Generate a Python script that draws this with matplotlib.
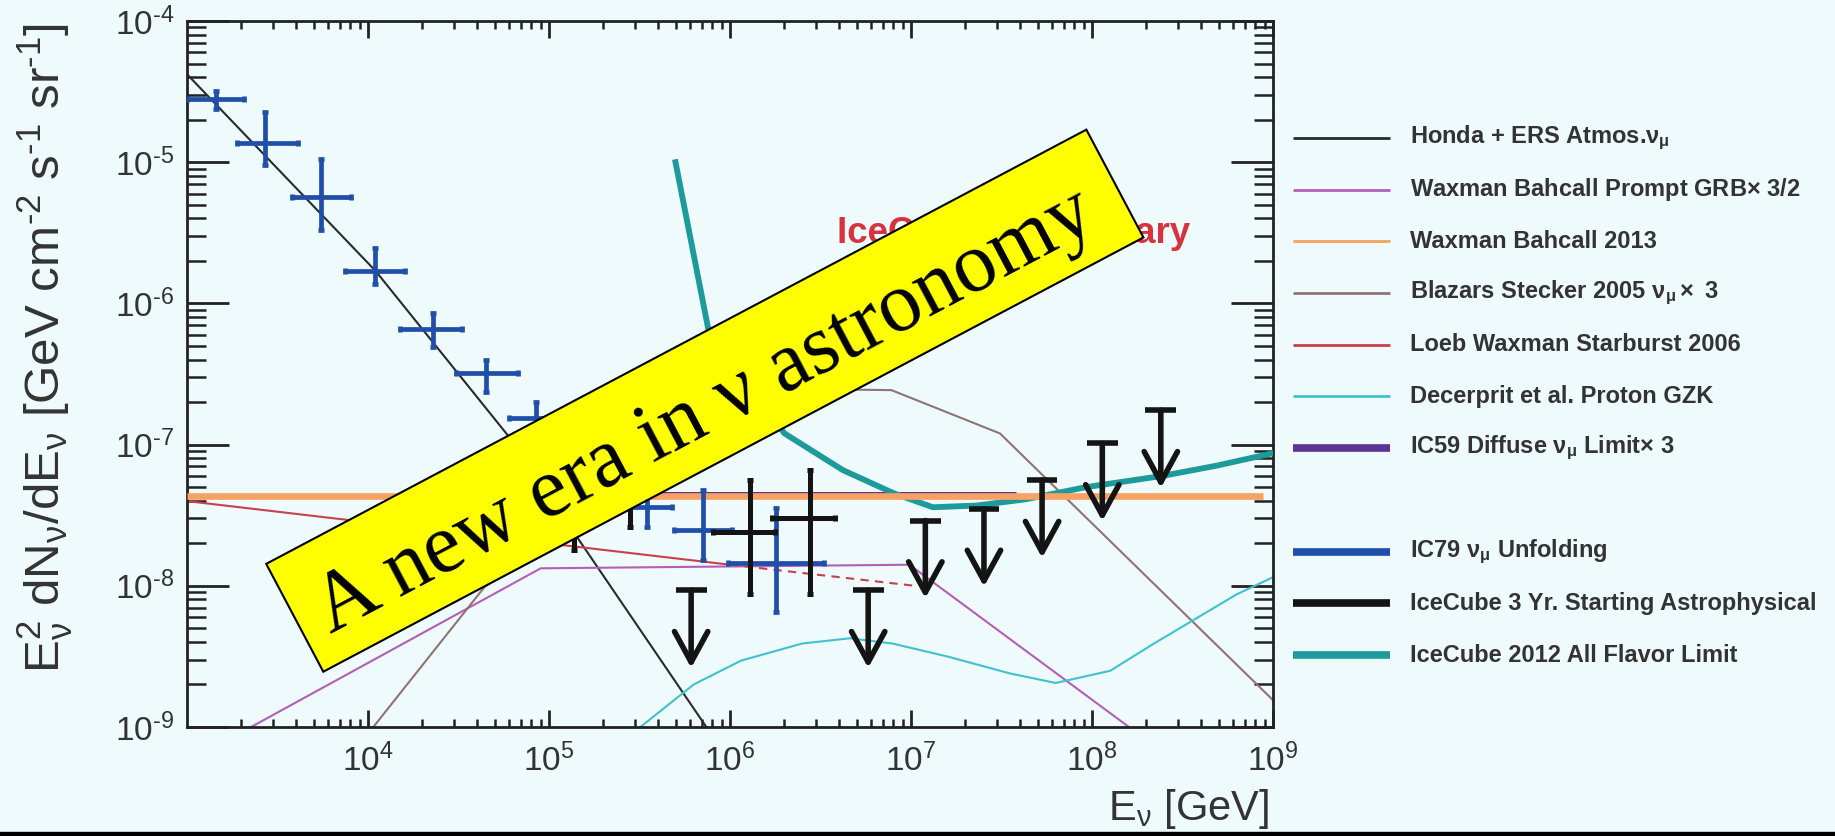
import matplotlib
matplotlib.use("Agg")
import matplotlib.pyplot as plt
import numpy as np
from matplotlib.lines import Line2D
from matplotlib.patches import Rectangle, FancyArrowPatch
from matplotlib.ticker import LogLocator, FuncFormatter

plt.rcParams["font.family"] = ["Liberation Sans", "DejaVu Sans"]
plt.rcParams["mathtext.fontset"] = "custom"
plt.rcParams["mathtext.rm"] = "Liberation Sans"
plt.rcParams["mathtext.it"] = "Liberation Sans:italic"
plt.rcParams["mathtext.bf"] = "Liberation Sans:bold"
plt.rcParams["mathtext.default"] = "regular"
plt.rcParams["axes.unicode_minus"] = False

# ---- model curves (E in GeV, E^2 dN/dE in GeV cm^-2 s^-1 sr^-1) ----
atm_e = [1.0e3, 1.1e4, 5.9e4, 7.4e5]
atm_f = [4.2e-5, 1.7e-6, 1.17e-7, 1.0e-9]

grb_e = [2.1e3, 9.0e4, 9.8e6, 1.6e8]
grb_f = [9.5e-10, 1.33e-8, 1.41e-8, 1.0e-9]

wb13_e = [1.0e3, 8.8e8]
wb13_f = [4.3e-8, 4.3e-8]

blazar_e = [1.07e4, 4.4e4, 5.0e5, 4.9e6, 7.8e6, 3.1e7, 1.0e9]
blazar_f = [1.0e-9, 9.8e-9, 1.0e-7, 2.45e-7, 2.43e-7, 1.2e-7, 1.55e-9]

sb_e = [1.0e3, 1.0e6]
sb_f = [3.98e-8, 1.41e-8]
sb_dash_e = [1.0e6, 1.05e7]
sb_dash_f = [1.41e-8, 1.0e-8]

gzk_e = [3.2e5, 6.3e5, 1.15e6, 2.5e6, 4.6e6, 7.9e6, 1.6e7, 3.5e7, 6.3e7, 1.26e8, 2.2e8, 6.3e8, 1.0e9]
gzk_f = [1.0e-9, 2.0e-9, 2.95e-9, 3.9e-9, 4.25e-9, 3.9e-9, 3.15e-9, 2.4e-9, 2.05e-9, 2.5e-9, 3.9e-9, 8.7e-9, 1.15e-8]

ic59_e = [3.2e5, 3.8e7]
ic59_f = [4.5e-8, 4.5e-8]

ic12_e = [5.0e5, 7.6e5, 2.0e6, 4.2e6, 8.1e6, 1.32e7, 2.3e7, 4.3e7, 9.3e7, 2.45e8, 4.9e8, 1.0e9]
ic12_f = [1.0e-5, 6.5e-7, 1.2e-7, 6.6e-8, 4.5e-8, 3.6e-8, 3.7e-8, 4.1e-8, 5.0e-8, 6.0e-8, 7.1e-8, 8.7e-8]

# ---- IC79 nu_mu unfolding ----
ic79_e = [1.44e3, 2.7e3, 5.5e3, 1.1e4, 2.3e4, 4.5e4, 8.5e4, 3.5e5, 7.1e5, 1.8e6]
ic79_f = [2.8e-5, 1.36e-5, 5.7e-6, 1.7e-6, 6.6e-7, 3.2e-7, 1.55e-7, 3.6e-8, 2.5e-8, 1.45e-8]
ic79_elo = [1.0e3, 1.9e3, 3.8e3, 7.5e3, 1.5e4, 3.05e4, 6.0e4, 2.6e5, 4.9e5, 9.8e5]
ic79_ehi = [2.07e3, 4.1e3, 8.1e3, 1.6e4, 3.3e4, 6.7e4, 1.2e5, 4.8e5, 1.02e6, 3.3e6]
ic79_flo = [2.4e-5, 9.6e-6, 3.3e-6, 1.38e-6, 4.9e-7, 2.36e-7, 1.17e-7, 2.6e-8, 1.52e-8, 6.5e-9]
ic79_fhi = [3.2e-5, 2.26e-5, 1.06e-5, 2.45e-6, 8.5e-7, 3.95e-7, 2.0e-7, 4.8e-8, 4.75e-8, 3.55e-8]

# ---- IceCube 3 yr starting events ----
hese_e = [1.38e5, 2.8e5, 1.29e6, 2.77e6]
hese_f = [3.5e-8, 4.8e-8, 2.4e-8, 3.0e-8]
hese_elo = [1.1e5, 2.24e5, 8.05e5, 1.7e6]
hese_ehi = [1.74e5, 3.55e5, 1.77e6, 3.81e6]
hese_flo = [1.8e-8, 2.6e-8, 8.8e-9, 8.8e-9]
hese_fhi = [6.3e-8, 7.9e-8, 5.6e-8, 6.6e-8]

ul_e = [6.1e5, 5.8e6, 1.2e7, 2.53e7, 5.3e7, 1.14e8, 2.4e8]
ul_f = [9.3e-9, 9.3e-9, 2.9e-8, 3.5e-8, 5.6e-8, 1.02e-7, 1.75e-7]

x_ticks = [1e4, 1e5, 1e6, 1e7, 1e8, 1e9]
y_ticks = [1e-9, 1e-8, 1e-7, 1e-6, 1e-5, 1e-4]

legend_labels = [
    r"Honda + ERS Atmos.$\nu_{\mu}$",
    r"Waxman Bahcall Prompt GRB$\times$ 3/2",
    "Waxman Bahcall 2013",
    r"Blazars Stecker 2005 $\nu_{\mu}\times$ 3",
    "Loeb Waxman Starburst 2006",
    "Decerprit et al. Proton GZK",
    r"IC59 Diffuse $\nu_{\mu}$ Limit$\times$ 3",
    r"IC79 $\nu_{\mu}$ Unfolding",
    "IceCube 3 Yr. Starting Astrophysical",
    "IceCube 2012 All Flavor Limit",
]
legend_colors = ["#2a2a2a", "#b35fb8", "#f5a35c", "#8f7474", "#c8404c",
                 "#3fc2cf", "#5c3494", "#1f4fa8", "#141414", "#1c9a9c"]
legend_widths = [2, 2, 2, 2, 2, 2, 5.5, 5.5, 5.5, 5.5]
legend_rows = [0, 1, 2, 3, 4, 5, 6, 8, 9, 10]


def pow10(v, pos):
    # short hyphen in the exponent, as on the original ROOT axes
    exp = int(round(np.log10(v)))
    if exp < 0:
        return r"$10^{\text{-}%d}$" % -exp
    return r"$10^{%d}$" % exp


BG = "#eefafc"
W, H = 1835, 836
fig = plt.figure(figsize=(W / 100, H / 100), dpi=100, facecolor=BG)
ax = fig.add_axes([187 / W, (H - 727) / H, 1086 / W, 706 / H], facecolor=BG)
ax.set_xscale("log")
ax.set_yscale("log")

# model curves
ax.plot(atm_e, atm_f, color="#2a2a2a", lw=1.5, zorder=2)
ax.plot(grb_e, grb_f, color="#b35fb8", lw=1.5, zorder=2)
ax.plot(blazar_e, blazar_f, color="#8f7474", lw=1.5, zorder=2)
ax.plot(sb_e, sb_f, color="#c8404c", lw=1.5, zorder=2)
ax.plot(sb_dash_e, sb_dash_f, color="#c8404c", lw=1.5, ls=(0, (4, 3)), zorder=2)
ax.plot(gzk_e, gzk_f, color="#3fc2cf", lw=1.5, zorder=2)
ax.plot(ic59_e, ic59_f, color="#5c3494", lw=3.6, zorder=2.5, solid_capstyle="butt")
ax.plot(ic12_e, ic12_f, color="#1c9a9c", lw=4.2, zorder=2.6, solid_joinstyle="round")
ax.plot(wb13_e, wb13_f, color="#f7a162", lw=4.8, zorder=2.7, solid_capstyle="butt")

# IC79 unfolding
e = np.array(ic79_e)
f = np.array(ic79_f)
ax.errorbar(e, f, xerr=[e - np.array(ic79_elo), np.array(ic79_ehi) - e],
            yerr=[f - np.array(ic79_flo), np.array(ic79_fhi) - f],
            fmt="none", ecolor="#1f4fa8", elinewidth=3.4, capsize=2.5, capthick=3.4, zorder=3)

# 3 yr starting events
e = np.array(hese_e)
f = np.array(hese_f)
ax.errorbar(e, f, xerr=[e - np.array(hese_elo), np.array(hese_ehi) - e],
            yerr=[f - np.array(hese_flo), np.array(hese_fhi) - f],
            fmt="none", ecolor="#141414", elinewidth=3.6, capsize=2.5, capthick=3.6, zorder=3.5)

# upper limits: T bar with a downward arrow
for ue, uf in zip(ul_e, ul_f):
    ax.hlines(uf, ue / 10 ** 0.085, ue * 10 ** 0.085, color="#141414", lw=4, zorder=4)
    ax.add_patch(FancyArrowPatch((ue, uf), (ue, uf / 10 ** 0.55),
                                 arrowstyle="->,head_length=2.2,head_width=1.2",
                                 mutation_scale=10, lw=4, color="#141414",
                                 shrinkA=0, shrinkB=0, zorder=4))

ax.text(0.5985, 0.6856, "IceCube Preliminary", transform=ax.transAxes, color="#d6333c",
        fontsize=26.5, fontweight="bold", ha="left", va="baseline", zorder=1)

ax.set_xlim(1e3, 1e9)
ax.set_ylim(1e-9, 1e-4)
ax.set_xticks(x_ticks)
ax.set_yticks(y_ticks)
ax.xaxis.set_major_formatter(FuncFormatter(pow10))
ax.yaxis.set_major_formatter(FuncFormatter(pow10))
ax.xaxis.set_minor_locator(LogLocator(base=10, subs=np.arange(2, 10), numticks=30))
ax.yaxis.set_minor_locator(LogLocator(base=10, subs=np.arange(2, 10), numticks=30))
ax.tick_params(which="both", direction="in", top=True, right=True, color="#222222", labelcolor="#333333")
ax.tick_params(axis="y", which="major", length=30, width=2, pad=9, labelsize=24)
ax.tick_params(axis="y", which="minor", length=14, width=1.8)
ax.tick_params(axis="x", which="major", length=12, width=2, pad=12, labelsize=24)
ax.tick_params(axis="x", which="minor", length=6, width=1.8)
for sp in ax.spines.values():
    sp.set_linewidth(2)
    sp.set_color("#222222")

ax.set_ylabel(r"$E_{\nu}^{2}\ dN_{\nu}/dE_{\nu}$ [GeV cm$^{\text{-}2}$ s$^{\text{-}1}$ sr$^{\text{-}1}$]",
              fontsize=35.5, color="#333333")
ax.yaxis.set_label_coords(-0.103, 0.537)
ax.set_xlabel(r"$E_{\nu}$ [GeV]", fontsize=30, color="#333333", loc="right")
ax.xaxis.set_label_coords(0.996, -0.132)
ax.xaxis.label.set_verticalalignment("baseline")

# legend drawn by hand on the right
for row, lab, col, lw in zip(legend_rows, legend_labels, legend_colors, legend_widths):
    y = 1 - (138 + 51.7 * row) / H
    fig.add_artist(Line2D([1293 / W, 1390 / W], [y, y], color=col, lw=lw, solid_capstyle="butt"))
    fig.text(1410 / W, y, lab, fontsize=17, fontweight="bold", color="#333333",
             ha="left", va="center")

# yellow banner across the plot
ang = 27.9
fig.add_artist(Rectangle((3.233, 1.643), 9.28, 1.22, angle=ang, transform=fig.dpi_scale_trans,
                         facecolor="#ffff00", edgecolor="black", lw=1.5, zorder=5))
fig.text(7.154, 4.058, "A new era in ν astronomy", transform=fig.dpi_scale_trans,
         rotation=ang, rotation_mode="anchor", ha="center", va="baseline",
         fontsize=61, family=["Liberation Serif", "DejaVu Serif"], zorder=6)

fig.add_artist(Rectangle((0, 0), 1, 4 / H, transform=fig.transFigure, color="black", zorder=10))

fig.savefig("out.png", dpi=100, facecolor=BG)
